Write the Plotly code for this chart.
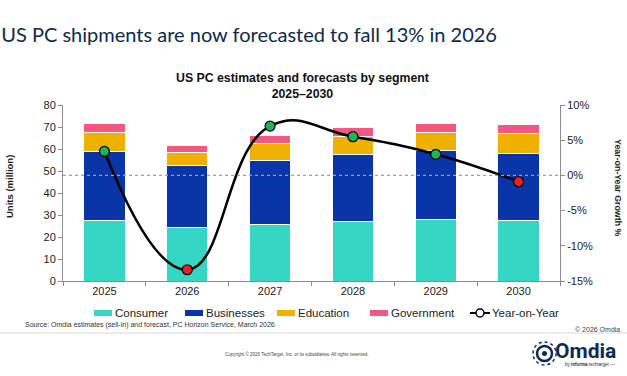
import plotly.graph_objects as go

# ---------------- data ----------------
years = ["2025", "2026", "2027", "2028", "2029", "2030"]
consumer = [27.7, 24.5, 25.8, 27.0, 27.9, 27.3]
businesses = [31.1, 27.9, 28.9, 30.6, 31.3, 30.6]
education = [8.9, 5.8, 7.7, 8.3, 8.4, 9.2]
government = [3.7, 3.5, 3.7, 3.8, 4.1, 4.1]
yoy = [3.4, -13.4, 7.0, 5.5, 3.0, -0.9]

left_ticks = [0, 10, 20, 30, 40, 50, 60, 70, 80]
right_tickvals = [-15, -10, -5, 0, 5, 10]
right_ticktext = ["-15%", "-10%", "-5%", "0%", "5%", "10%"]

series_names = ["Consumer", "Businesses", "Education", "Government"]
series_values = [consumer, businesses, education, government]
series_colors = ["#36D6C4", "#0A35A8", "#EFB100", "#F4577F"]

# ---------------- layout geometry ----------------
W, H = 627, 376
L, R, T, B = 63, 560, 105, 281


def px(x):
    return (x - L) / (R - L)


def py(y):
    return (B - y) / (B - T)


FONT = "Liberation Sans"
fig = go.Figure()

for name, vals, col in zip(series_names, series_values, series_colors):
    fig.add_trace(go.Bar(
        x=years, y=vals, name=name, marker_color=col,
        marker_line=dict(color="white", width=1), width=0.5,
        showlegend=False, hoverinfo="y+name"))

marker_colors = ["#1DB35A" if v >= 0 else "#E8201E" for v in yoy]
fig.add_trace(go.Scatter(
    x=years, y=yoy, yaxis="y2", mode="lines+markers", name="Year-on-Year",
    line=dict(color="black", width=2.5, shape="spline", smoothing=1.3),
    marker=dict(size=10, color=marker_colors, line=dict(color="black", width=1.2)),
    showlegend=False, cliponaxis=False))

shapes = []
# dotted zero line on right axis
shapes.append(dict(type="line", xref="paper", x0=0, x1=1, yref="y2", y0=0, y1=0,
                   line=dict(color="#A0A0A0", width=1.2, dash="dot"), layer="above"))

annotations = []
# chart title
annotations.append(dict(text="<b>US PC estimates and forecasts by segment<br>2025–2030</b>",
                        xref="paper", yref="paper", x=px(302), y=py(86),
                        xanchor="center", yanchor="middle", showarrow=False,
                        font=dict(family=FONT, size=12.3, color="#111")))
# axis titles
annotations.append(dict(text="<b>Units (million)</b>", xref="paper", yref="paper",
                        x=px(9), y=py(187), textangle=-90, showarrow=False,
                        xanchor="center", yanchor="middle",
                        font=dict(family=FONT, size=9.5, color="#222")))
annotations.append(dict(text="<b>Year-on-Year Growth %</b>", xref="paper", yref="paper",
                        x=px(618), y=py(187), textangle=90, showarrow=False,
                        xanchor="center", yanchor="middle",
                        font=dict(family=FONT, size=8.8, color="#222")))

# manual legend
legend_y = 313
sw = [(94, 112), (185, 203), (277, 295), (370, 388)]
for (x0, x1), name, col in zip(sw, series_names, series_colors):
    shapes.append(dict(type="rect", xref="paper", yref="paper",
                       x0=px(x0), x1=px(x1), y0=py(legend_y + 3), y1=py(legend_y - 3),
                       fillcolor=col, line=dict(width=0)))
    annotations.append(dict(text=name, xref="paper", yref="paper", x=px(x1 + 1), y=py(legend_y),
                            xanchor="left", yanchor="middle", showarrow=False,
                            font=dict(family=FONT, size=11.5, color="#222")))
shapes.append(dict(type="line", xref="paper", yref="paper", x0=px(470), x1=px(490),
                   y0=py(legend_y), y1=py(legend_y), line=dict(color="black", width=2)))
shapes.append(dict(type="circle", xref="paper", yref="paper", x0=px(476), x1=px(484),
                   y0=py(legend_y + 4), y1=py(legend_y - 4), fillcolor="white",
                   line=dict(color="black", width=1.5)))
annotations.append(dict(text="Year-on-Year", xref="paper", yref="paper", x=px(490), y=py(legend_y),
                        xanchor="left", yanchor="middle", showarrow=False,
                        font=dict(family=FONT, size=11.5, color="#222")))

# source + footer
annotations.append(dict(text="Source: Omdia estimates (sell-in) and forecast, PC Horizon Service, March 2026",
                        xref="paper", yref="paper", x=px(23), y=py(325), xanchor="left",
                        yanchor="middle", showarrow=False,
                        font=dict(family=FONT, size=7, color="#333")))
annotations.append(dict(text="© 2026 Omdia", xref="paper", yref="paper", x=px(622), y=py(329),
                        xanchor="right", yanchor="middle", showarrow=False,
                        font=dict(family=FONT, size=7, color="#444")))
shapes.append(dict(type="line", xref="paper", yref="paper", x0=px(0), x1=px(627),
                   y0=py(333), y1=py(333), line=dict(color="#D8D8D8", width=1)))
annotations.append(dict(text="Copyright © 2026 TechTarget, Inc. or its subsidiaries. All rights reserved.",
                        xref="paper", yref="paper", x=px(297), y=py(354), xanchor="center",
                        yanchor="middle", showarrow=False,
                        font=dict(family=FONT, size=4.5, color="#444")))
# Omdia logo
NAVY = "#0B2A5B"
annotations.append(dict(text="<b>Omdia</b>", xref="paper", yref="paper", x=px(553), y=py(351),
                        xanchor="left", yanchor="middle", showarrow=False,
                        font=dict(family="Roboto", size=21, color=NAVY)))
annotations.append(dict(text="by <b>informa</b> techtarget ⋯", xref="paper", yref="paper",
                        x=px(563), y=py(364), xanchor="left", yanchor="middle", showarrow=False,
                        font=dict(family=FONT, size=4.5, color=NAVY)))
shapes.append(dict(type="circle", xref="paper", yref="paper", x0=px(533), x1=px(556),
                   y0=py(365), y1=py(342), line=dict(color=NAVY, width=1.5, dash="dot")))
shapes.append(dict(type="circle", xref="paper", yref="paper", x0=px(537), x1=px(552),
                   y0=py(361), y1=py(346), line=dict(color=NAVY, width=2.5)))
shapes.append(dict(type="circle", xref="paper", yref="paper", x0=px(542), x1=px(547),
                   y0=py(356), y1=py(351), fillcolor=NAVY, line=dict(width=0)))

axis_common = dict(showline=True, linecolor="#8C8C8C", linewidth=1, ticks="outside",
                   ticklen=4, tickcolor="#8C8C8C", showgrid=False, zeroline=False,
                   tickfont=dict(family=FONT, size=11, color="#222"))

fig.update_layout(
    width=W, height=H,
    margin=dict(l=L, r=W - R, t=T, b=H - B, pad=0),
    plot_bgcolor="white", paper_bgcolor="white",
    barmode="stack", bargap=0.5, showlegend=False,
    title=dict(text="US PC shipments are now forecasted to fall 13% in 2026",
               x=0.002, xref="container", xanchor="left",
               y=1 - 35 / H, yref="container", yanchor="middle",
               font=dict(family="Lato", size=20, color="#0D2A4C")),
    xaxis=dict(type="category", range=[-0.5, 5.5], tickson="boundaries", **axis_common),
    yaxis=dict(range=[0, 80], tickvals=left_ticks, **axis_common),
    yaxis2=dict(range=[-15, 10], overlaying="y", side="right",
                tickvals=right_tickvals, ticktext=right_ticktext, **axis_common),
    shapes=shapes, annotations=annotations,
)

fig.write_html("out.html", config={"displayModeBar": False},
               post_script="document.body.style.margin='0';document.body.style.overflow='hidden';")
